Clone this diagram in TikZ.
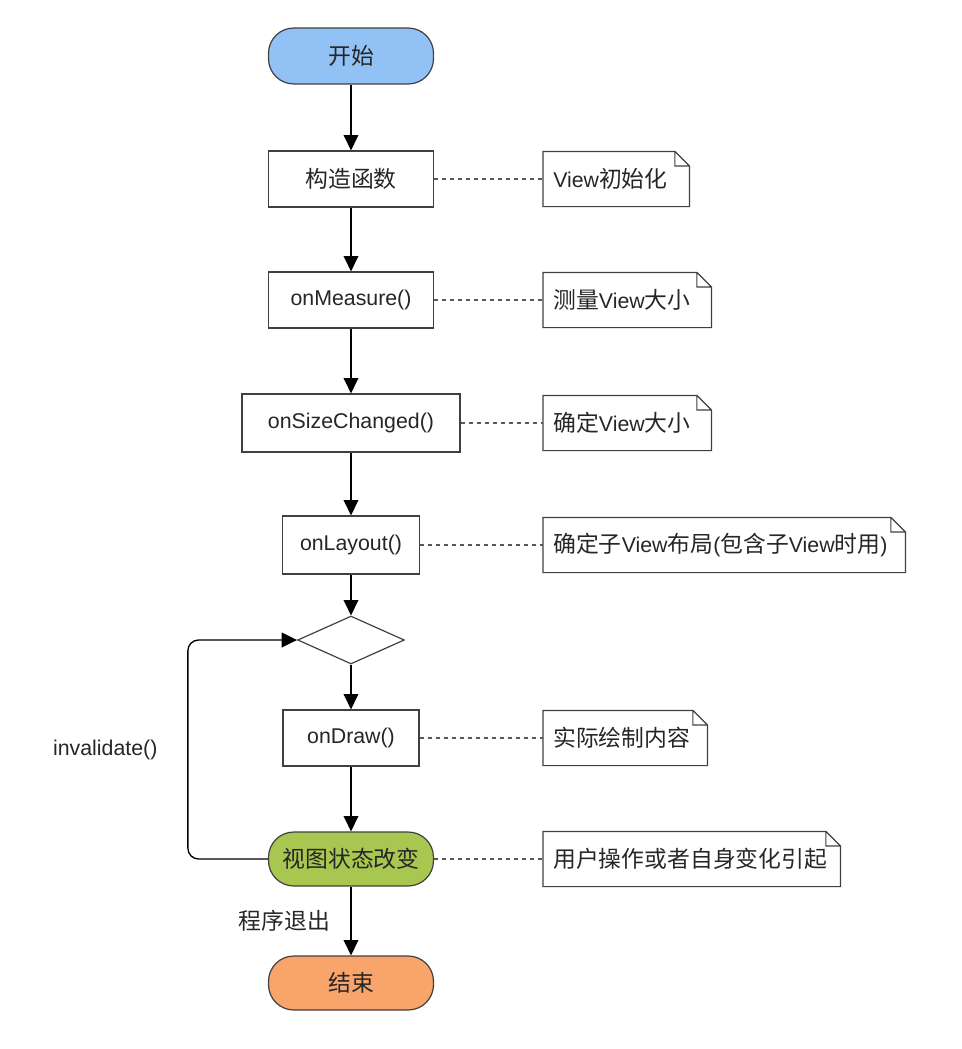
\documentclass[tikz,border=0pt]{standalone}
\usepackage{fontspec}
\setmainfont{Liberation Sans}
\newfontfamily\cjk[Scale=1.07]{Noto Sans CJK SC}
\newcommand{\zh}[1]{{\cjk #1}}
\usetikzlibrary{shapes.geometric,arrows.meta}
\definecolor{startblue}{RGB}{146,193,245}
\definecolor{stategreen}{RGB}{168,199,80}
\definecolor{endorange}{RGB}{248,164,106}
\tikzset{
  box/.style={draw=black!75, line width=0.9pt, fill=white, minimum width=123.75pt,
    minimum height=42pt, inner sep=2pt},
  term/.style={box, rounded corners=19pt},
  note/.style={anchor=west, align=left, inner xsep=7.5pt, minimum height=41pt, text width=#1},
  notefold/.style={draw=black!75, line width=0.9pt},
  flow/.style={-{Triangle[length=11.5pt,width=11pt]}, line width=1pt},
  link/.style={dash pattern=on 3pt off 3pt, line width=1pt, black!65},
}
\begin{document}
\begin{tikzpicture}[x=0.75pt,y=-0.75pt, font=\fontsize{16}{18}\selectfont, text=black!85]
  \useasboundingbox (0,0) rectangle (961,1049);
  % main column
  \node[term, fill=startblue] (start) at (351,56) {\zh{开始}};
  \node[box] (ctor) at (351,179) {\zh{构造函数}};
  \node[box] (measure) at (351,300) {onMeasure()};
  \node[box, minimum width=163.5pt, minimum height=43.5pt] (size) at (351,423) {onSizeChanged()};
  \node[box, minimum width=102.75pt, minimum height=43.5pt] (layout) at (351,545) {onLayout()};
  \node[draw=black!75, line width=0.9pt, diamond, minimum width=80pt, minimum height=36pt,
    inner sep=0pt] (dia) at (351,640) {};
  \node[box, minimum width=102pt] (draw) at (351,738) {onDraw()};
  \node[term, fill=stategreen, minimum height=40.5pt] (state) at (351,859) {\zh{视图状态改变}};
  \node[term, fill=endorange, minimum height=40.5pt] (end) at (351,983) {\zh{结束}};
  % notes
  \node[note=94.5pt] (n1) at (543,179) {View\zh{初始化}};
  \node[note=111pt] (n2) at (543,300) {\zh{测量}View\zh{大小}};
  \node[note=111pt] (n3) at (543,423) {\zh{确定}View\zh{大小}};
  \node[note=256.5pt] (n4) at (543,545) {\zh{确定子}View\zh{布局}(\zh{包含子}View\zh{时用})};
  \node[note=108pt] (n5) at (543,738) {\zh{实际绘制内容}};
  \node[note=207.75pt] (n6) at (543,859) {\zh{用户操作或者自身变化引起}};
  \foreach \n in {n1,n2,n3,n4,n5,n6}
    \draw[notefold] (\n.south west) -- (\n.north west) -- ([xshift=-11pt]\n.north east)
      -- ([yshift=-11pt]\n.north east) -- (\n.south east) -- cycle
      ([xshift=-11pt]\n.north east) -- ([xshift=-11pt,yshift=-11pt]\n.north east)
      -- ([yshift=-11pt]\n.north east);
  % connectors
  \foreach \a/\b in {start/ctor,ctor/measure,measure/size,size/layout,layout/dia,dia/draw,draw/state}
    \draw[flow] (\a) -- (\b);
  \draw[flow] (state) -- node[left=12pt] {\zh{程序退出}} (end);
  \draw[flow, rounded corners=8pt] (state.west) -- ++(-80,0) |- node[pos=0.25, left=19pt] {invalidate()} (dia.west);
  \foreach \a/\b in {ctor/n1,measure/n2,size/n3,layout/n4,draw/n5,state/n6}
    \draw[link] (\a.east) -- (\b.west);
\end{tikzpicture}
\end{document}
